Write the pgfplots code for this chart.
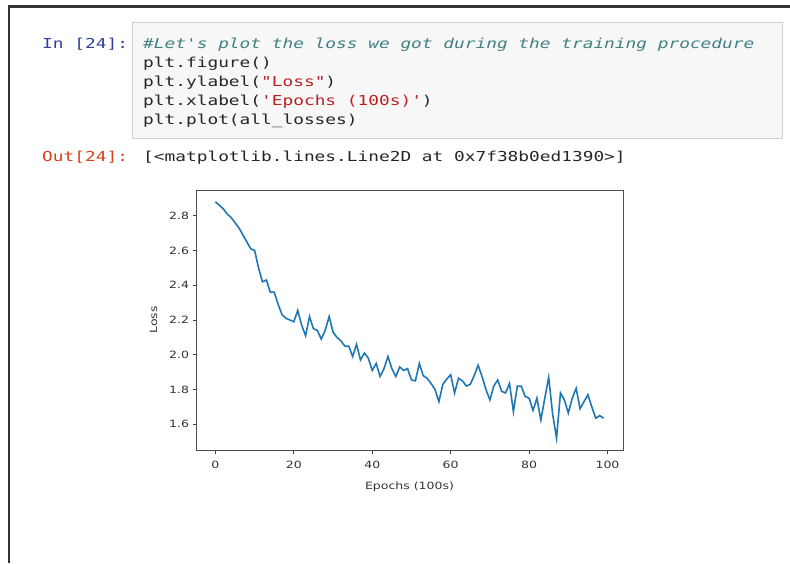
\documentclass[border=0pt]{standalone}
\usepackage{fontspec}
\setmainfont{DejaVu Sans}
\newfontfamily\codefont[Ligatures=TeXOff,FakeStretch=1.3]{DejaVu Sans Mono}
\newfontfamily\chartfont[FakeStretch=1.25]{DejaVu Sans}
\usepackage{pgfplots}
\usepackage{pgfplotstable}
\pgfplotsset{compat=1.18}
\definecolor{inblue}{HTML}{303F9F}
\definecolor{outred}{HTML}{D84315}
\definecolor{cmt}{HTML}{408080}
\definecolor{strc}{HTML}{BA2121}
\definecolor{mplblue}{HTML}{1F77B4}
\definecolor{cellbg}{HTML}{F7F7F7}
\definecolor{cellbd}{HTML}{CFCFCF}
\pgfplotstableread{
x y
0 2.88
1 2.86
2 2.84
3 2.81
4 2.79
5 2.76
6 2.73
7 2.69
8 2.65
9 2.61
10 2.60
11 2.50
12 2.42
13 2.43
14 2.36
15 2.36
16 2.29
17 2.23
18 2.21
19 2.20
20 2.19
21 2.255
22 2.17
23 2.11
24 2.22
25 2.15
26 2.14
27 2.09
28 2.14
29 2.22
30 2.13
31 2.10
32 2.08
33 2.05
34 2.05
35 1.99
36 2.06
37 1.97
38 2.01
39 1.98
40 1.91
41 1.95
42 1.875
43 1.92
44 1.99
45 1.92
46 1.875
47 1.93
48 1.91
49 1.92
50 1.855
51 1.85
52 1.95
53 1.88
54 1.865
55 1.835
56 1.80
57 1.73
58 1.83
59 1.86
60 1.885
61 1.78
62 1.865
63 1.85
64 1.82
65 1.83
66 1.88
67 1.94
68 1.875
69 1.80
70 1.74
71 1.82
72 1.855
73 1.79
74 1.78
75 1.835
76 1.673
77 1.82
78 1.82
79 1.76
80 1.75
81 1.68
82 1.75
83 1.625
84 1.75
85 1.87
86 1.66
87 1.52
88 1.78
89 1.74
90 1.665
91 1.75
92 1.807
93 1.69
94 1.73
95 1.77
96 1.70
97 1.635
98 1.65
99 1.635
}\losses
\begin{document}
\begin{tikzpicture}
\begin{scope}[x=1pt,y=-1pt]
\path[fill=white] (0,0) rectangle (790,563);
\fill[black!80] (8,5) rectangle (790,8);
\fill[black!80] (8,5) rectangle (10,563);
\filldraw[fill=cellbg,draw=cellbd,line width=0.8pt] (132,22) rectangle (782,138);
\tikzset{code/.style={anchor=base west, inner sep=0pt, font=\codefont\fontsize{13.7}{16}\selectfont, text=black!85}}
\node[code, text=inblue] at (42,48) {In [24]:};
\node[code, text=cmt] at (143,48) {\itshape\#Let's plot the loss we got during the training procedure};
\node[code] at (143,67) {plt.figure()};
\node[code] at (143,86) {plt.ylabel({\color{strc}"Loss"})};
\node[code] at (143,105) {plt.xlabel({\color{strc}'Epochs (100s)'})};
\node[code] at (143,124) {plt.plot(all\_losses)};
\node[code, text=outred] at (42,161) {Out[24]:};
\node[code] at (143,161) {[<matplotlib.lines.Line2D at 0x7f38b0ed1390>]};
\end{scope}
\begin{axis}[
  at={(196pt,-450pt)}, anchor=south west,
  scale only axis, width=427pt, height=260pt,
  xmin=-4.95, xmax=103.95, ymin=1.452, ymax=2.948,
  xtick={0,20,40,60,80,100},
  ytick={1.6,1.8,2.0,2.2,2.4,2.6,2.8},
  yticklabel style={/pgf/number format/.cd, fixed, fixed zerofill, precision=1},
  /pgf/number format/assume math mode=true,
  xtick pos=lower, ytick pos=left,
  tick align=outside, major tick length=3.5pt,
  tick style={black!75, line width=0.8pt},
  axis line style={black!70, line width=0.8pt},
  tick label style={font=\chartfont\fontsize{10}{12}\selectfont, text=black!80},
  xticklabel style={yshift=-4pt},
  label style={font=\chartfont\fontsize{10}{12}\selectfont, text=black!80},
  xlabel={Epochs (100s)}, ylabel={Loss},
  xlabel style={yshift=-6pt},
  ylabel style={yshift=5pt},
]
\addplot[mplblue, line width=1.6pt] table[x=x,y=y] {\losses};
\end{axis}
\end{tikzpicture}
\end{document}
